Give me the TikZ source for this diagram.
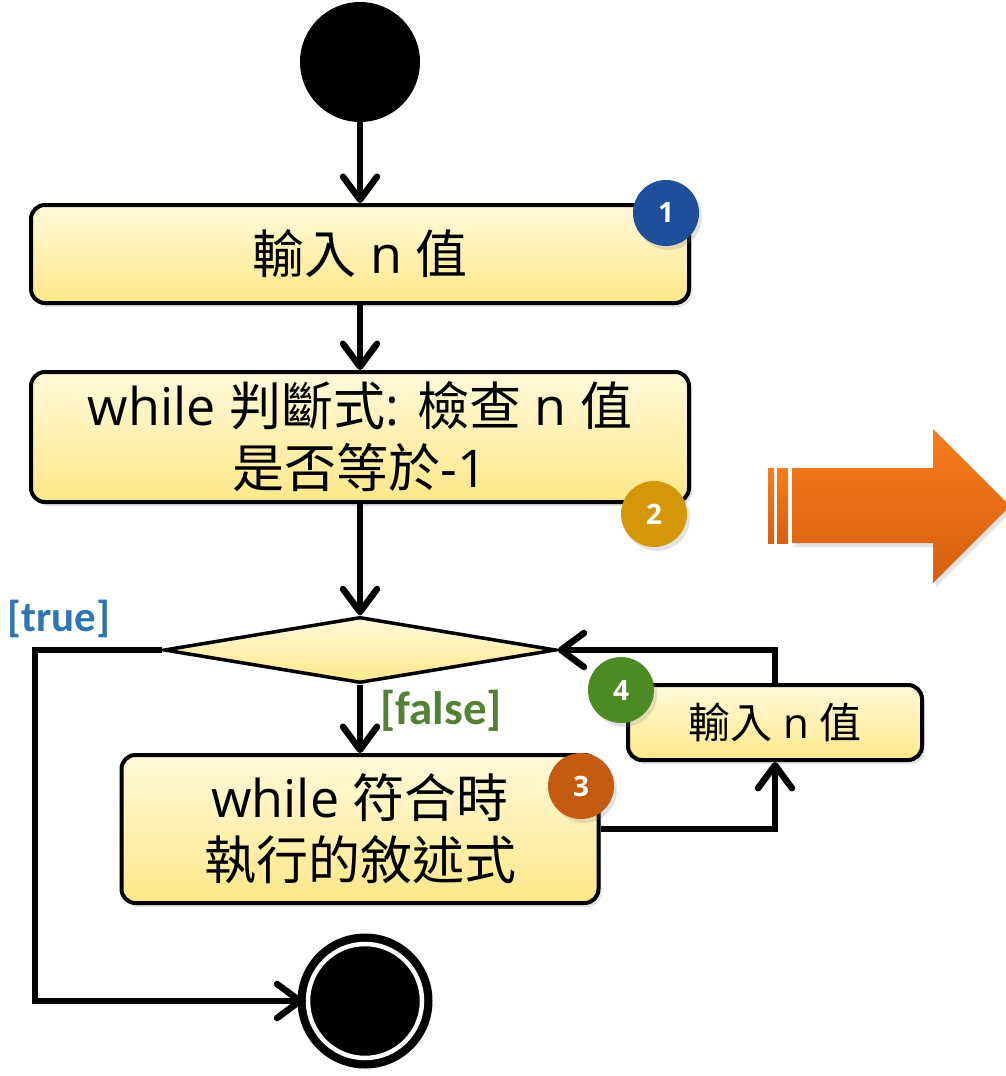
\documentclass[tikz,border=0pt]{standalone}
\usepackage{fontspec}
\setmainfont{Open Sans}
\newfontfamily\cjk{Noto Sans CJK TC}
\newfontfamily\lblfont{Carlito}
\usetikzlibrary{arrows.meta,shapes.geometric,shadows}
\definecolor{boxtop}{HTML}{FFF9DA}
\definecolor{boxbot}{HTML}{FFE889}
\definecolor{trueblue}{HTML}{2E75B6}
\definecolor{falsegreen}{HTML}{548235}
\definecolor{badgeA}{HTML}{1F4E9A}
\definecolor{badgeB}{HTML}{D4970A}
\definecolor{badgeC}{HTML}{C55A11}
\definecolor{badgeD}{HTML}{4C8A24}
\definecolor{orangetop}{HTML}{F97C1E}
\definecolor{orangebot}{HTML}{D5600F}
\begin{document}
\begin{tikzpicture}[x=1pt,y=-1pt,
  softshadow/.style={drop shadow={opacity=0.22, shadow xshift=3pt, shadow yshift=-4pt}},
  actbox/.style={draw=black, line width=4pt, rounded corners=14pt,
    top color=boxtop, bottom color=boxbot, inner sep=0pt, align=center,
    font=\fontsize{52}{62}\selectfont, softshadow},
  decbox/.style={diamond, draw=black, line width=3.5pt, top color=boxtop,
    bottom color=boxbot, inner sep=0pt, aspect=5.94},
  initnode/.style={circle, fill=black, minimum size=120pt, inner sep=0pt},
  finalnode/.style={circle, fill=black, minimum size=135pt, inner sep=0pt},
  badge/.style={circle, minimum size=66pt, inner sep=0pt, text=white,
    font=\bfseries\fontsize{28}{28}\selectfont, softshadow},
  guard/.style={font=\lblfont\bfseries\fontsize{43}{43}\selectfont, inner sep=0pt},
  flow/.style={line width=6.5pt, draw=black,
    -{Straight Barb[length=23pt, width=34pt, round]}},
]
\useasboundingbox (0,0) rectangle (1005,1076);

% orange arrow on the right
\shade[top color=orangetop, bottom color=orangebot, softshadow]
  (792,468) -- (933,468) -- (933,429) -- (1010,506) -- (933,583) -- (933,543) -- (792,543) -- cycle;
\shade[top color=orangetop, bottom color=orangebot] (768,468) rectangle (774,543);
\shade[top color=orangetop, bottom color=orangebot] (777,468) rectangle (788,543);

% nodes
\node[initnode] (start) at (360,62) {};
\node[actbox, minimum width=658pt, minimum height=98pt] (b1) at (360,254)
  {{\cjk 輸入} n {\cjk 值}};
\node[actbox, minimum width=658pt, minimum height=130pt] (b2) at (360,437)
  {while {\cjk 判斷式}: {\cjk 檢查} n {\cjk 值}\\{\cjk 是否等於}-1};
\node[decbox, minimum width=392pt, minimum height=66pt] (dec) at (360,650) {};
\node[actbox, minimum width=477pt, minimum height=148pt] (b3) at (360,829)
  {while {\cjk 符合時}\\{\cjk 執行的敘述式}};
\node[actbox, minimum width=294pt, minimum height=75pt,
  font=\fontsize{42}{50}\selectfont] (b4) at (775,722.5)
  {{\cjk 輸入} n {\cjk 值}};
\node[finalnode] (end) at (365,1001) {};
\draw[white, line width=4.5pt] (end.center) circle (57);

% guards
\node[guard, text=trueblue] (tlab) at (59,619) {[true]};
\node[guard, text=falsegreen, font=\lblfont\bfseries\fontsize{47}{47}\selectfont]
  (flab) at (441,711) {[false]};

% connectors
\coordinate (tl) at (35,650);
\draw[flow] (start) -- (b1);
\draw[flow] (b1) -- (b2);
\draw[flow] (b2) -- (dec);
\draw[flow] (dec) -- (b3);
\draw[flow] (b3.east) -| (b4.south);
\draw[flow] (b4.north) |- (dec.east);
\draw[flow, shorten >=-6pt] (dec.west) -- (tl) |- (end);

% badges
\node[badge, fill=badgeA] (n1) at (666,213) {1};
\node[badge, fill=badgeB] (n2) at (654,514) {2};
\node[badge, fill=badgeC] (n3) at (581,786) {3};
\node[badge, fill=badgeD] (n4) at (621,690) {4};
\end{tikzpicture}
\end{document}
